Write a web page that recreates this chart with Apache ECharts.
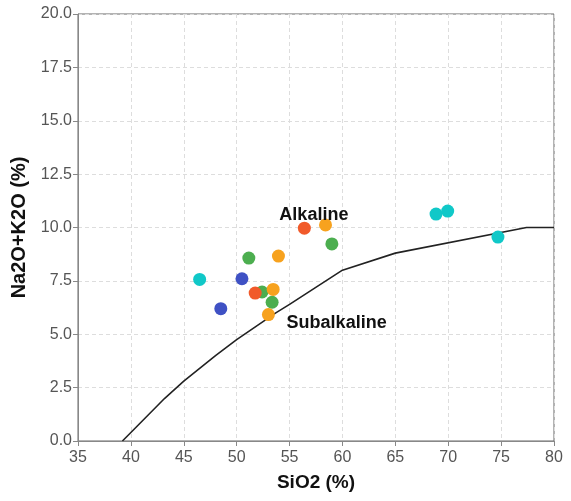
<!DOCTYPE html>
<html>
<head>
<meta charset="utf-8">
<script src="https://cdn.jsdelivr.net/npm/echarts@6/dist/echarts.min.js"></script>
<style>
  html, body { margin: 0; padding: 0; background: #fff; }
  #chart { width: 571px; height: 501px; }
</style>
</head>
<body>
<div id="chart"></div>
<script>
// TAS diagram: SiO2 vs total alkalis with the alkaline / subalkaline divide
const cyanPts   = [[46.5, 7.57], [68.85, 10.63], [69.95, 10.77], [74.7, 9.55]];
const bluePts   = [[50.5, 7.6], [48.5, 6.2]];
const greenPts  = [[51.15, 8.57], [52.4, 6.98], [59.0, 9.23], [53.35, 6.5]];
const orangePts = [[58.4, 10.12], [53.95, 8.66], [53.45, 7.1], [53.0, 5.92]];
const redPts    = [[56.4, 9.97], [51.75, 6.93]];

// Irvine & Baragar boundary
const dividerLine = [[39.2, 0], [40, 0.4], [43.2, 2.0], [45, 2.8], [48, 4.0], [50, 4.75],
                     [53.7, 6.0], [55, 6.4], [60, 8.0], [65, 8.8], [77.4, 10.0], [80, 10.0]];

const fieldLabels = [
  { name: 'Alkaline', coord: [57.3, 10.6] },
  { name: 'Subalkaline', coord: [59.45, 5.53] }
];

const xTicks = { min: 35, max: 80, step: 5 };
const yTicks = { min: 0, max: 20, step: 2.5 };

const FONT = 'Liberation Sans, Arial, sans-serif';
const chart = echarts.init(document.getElementById('chart'), null, { renderer: 'canvas' });

const pointSeries = (data, color) => ({
  type: 'scatter',
  data: data,
  symbolSize: 13,
  itemStyle: { color: color, opacity: 1 },
  z: 3
});

const axisCommon = {
  axisLine: { show: true, lineStyle: { color: '#888', width: 1 } },
  axisTick: { show: true, length: 5, lineStyle: { color: '#888' } },
  axisLabel: { color: '#555', fontSize: 16, fontFamily: FONT },
  splitLine: { show: true, lineStyle: { color: '#ddd', type: [4, 3] } },
  nameTextStyle: { color: '#111', fontSize: 20, fontWeight: 'bold', fontFamily: FONT }
};

chart.setOption({
  animation: false,
  grid: { left: 78, right: 17, top: 14, bottom: 60, show: true, borderColor: '#666', borderWidth: 1 },
  xAxis: Object.assign({}, axisCommon, {
    type: 'value', min: xTicks.min, max: xTicks.max, interval: xTicks.step,
    name: 'SiO2 (%)', nameLocation: 'middle', nameGap: 32,
    nameTextStyle: Object.assign({}, axisCommon.nameTextStyle, { fontSize: 19 }),
    axisLabel: Object.assign({}, axisCommon.axisLabel, { formatter: v => String(v), margin: 9 })
  }),
  yAxis: Object.assign({}, axisCommon, {
    type: 'value', min: yTicks.min, max: yTicks.max, interval: yTicks.step,
    name: 'Na2O+K2O (%)', nameLocation: 'middle', nameGap: 45,
    axisLabel: Object.assign({}, axisCommon.axisLabel, { formatter: v => v.toFixed(1), margin: 6 })
  }),
  series: [
    {
      type: 'line',
      data: dividerLine,
      showSymbol: false,
      lineStyle: { color: '#222', width: 1.6 },
      z: 2,
      silent: true,
      markPoint: {
        symbol: 'circle', symbolSize: 0,
        label: {
          show: true, formatter: p => p.name, color: '#111', fontSize: 18, fontWeight: 'bold',
          fontFamily: FONT, position: 'inside'
        },
        data: fieldLabels
      }
    },
    pointSeries(cyanPts, '#10c8c8'),
    pointSeries(bluePts, '#3f51c4'),
    pointSeries(greenPts, '#4cae4f'),
    pointSeries(orangePts, '#f7a21e'),
    pointSeries(redPts, '#f15a2a')
  ]
});
</script>
</body>
</html>
